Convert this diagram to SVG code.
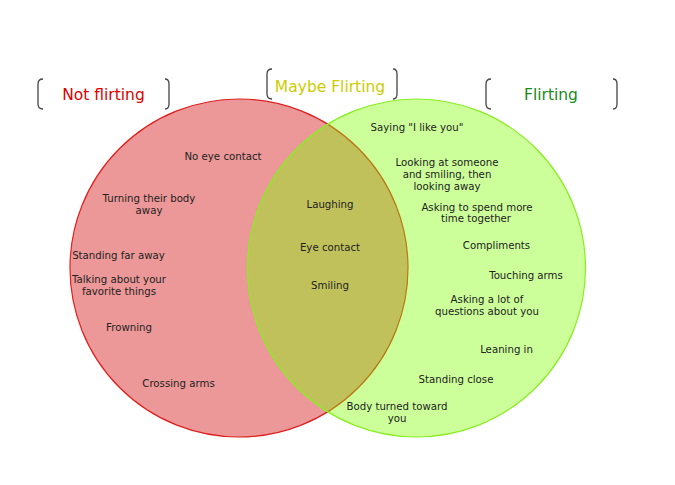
<svg xmlns="http://www.w3.org/2000/svg" width="675" height="485" viewBox="0 0 675 485">
<style>
.t{font-family:"DejaVu Sans",sans-serif;font-size:10.2px;fill:#222;text-anchor:middle}
.h{font-family:"DejaVu Sans",sans-serif;font-size:15.5px;text-anchor:middle}
.br{fill:none;stroke:#444;stroke-width:1.3}
</style>
<rect width="675" height="485" fill="#fff"/>
<g id="not-flirting-set">
<circle cx="239" cy="268" r="169" fill="#ed9898" stroke="#dd2020" stroke-width="1.2"/>
</g>
<g id="flirting-set">
<circle cx="416.5" cy="268" r="169" fill="#80ff00" fill-opacity="0.4" stroke="#88ee22" stroke-width="1.2"/>
</g>
<g id="header-not-flirting">
<path class="br" d="M43,79 Q38,79 38,84 L38,104 Q38,109 43,109"/>
<path class="br" d="M165,79 Q169,79 169,84 L169,104 Q169,109 165,109"/>
<text class="h" x="103.5" y="100" fill="#dd0000">Not flirting</text>
</g>
<g id="header-maybe">
<path class="br" d="M272,69 Q267,69 267,74 L267,94 Q267,99 272,99"/>
<path class="br" d="M393,69 Q397,69 397,74 L397,94 Q397,99 393,99"/>
<text class="h" x="330" y="91.5" fill="#cccc00">Maybe Flirting</text>
</g>
<g id="header-flirting">
<path class="br" d="M491,79 Q486,79 486,84 L486,104 Q486,109 491,109"/>
<path class="br" d="M613,79 Q617,79 617,84 L617,104 Q617,109 613,109"/>
<text class="h" x="551" y="100" fill="#1a8a1a">Flirting</text>
</g>
<g id="not-flirting-items">
<text class="t" x="223" y="160">No eye contact</text>
<text class="t" x="149" y="201.5">Turning their body</text>
<text class="t" x="149" y="213.5">away</text>
<text class="t" x="118.5" y="259">Standing far away</text>
<text class="t" x="119" y="283">Talking about your</text>
<text class="t" x="119" y="295">favorite things</text>
<text class="t" x="129" y="330.5">Frowning</text>
<text class="t" x="178.5" y="387">Crossing arms</text>
</g>
<g id="maybe-items">
<text class="t" x="330" y="208">Laughing</text>
<text class="t" x="330" y="251">Eye contact</text>
<text class="t" x="330" y="288.5">Smiling</text>
</g>
<g id="flirting-items">
<text class="t" x="417" y="130.5">Saying "I like you"</text>
<text class="t" x="447" y="166">Looking at someone</text>
<text class="t" x="447" y="178">and smiling, then</text>
<text class="t" x="447" y="190">looking away</text>
<text class="t" x="477" y="210.5">Asking to spend more</text>
<text class="t" x="476" y="222">time together</text>
<text class="t" x="496.5" y="249">Compliments</text>
<text class="t" x="526" y="279">Touching arms</text>
<text class="t" x="487" y="303">Asking a lot of</text>
<text class="t" x="487" y="315">questions about you</text>
<text class="t" x="506.5" y="352.5">Leaning in</text>
<text class="t" x="456" y="382.5">Standing close</text>
<text class="t" x="397" y="410">Body turned toward</text>
<text class="t" x="397" y="422">you</text>
</g>
</svg>
